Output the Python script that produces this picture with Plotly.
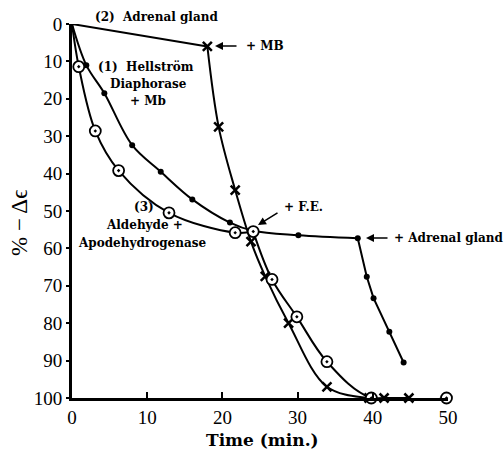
import plotly.graph_objects as go

# (1) Hellström diaphorase + Mb (dots)
hell_t = [0, 1.9, 4.3, 8.0, 11.8, 16.0, 21.0, 24.1, 30.1, 38.0]
hell_v = [0, 11.0, 18.5, 32.4, 39.5, 46.9, 53.1, 55.3, 56.5, 57.3]
# after + Adrenal gland
hell_ad_t = [38.0, 39.2, 40.1, 42.2, 44.1]
hell_ad_v = [57.3, 67.6, 73.3, 82.3, 90.5]

# (2) Adrenal gland (crosses)
adr_t = [0, 18.0]
adr_v = [0, 6.0]
# after + MB
adr_mb_t = [18.0, 19.5, 21.7, 23.8, 25.7, 28.8, 33.9, 39.5, 41.5, 44.8]
adr_mb_v = [6.0, 27.5, 44.4, 58.2, 67.5, 80.0, 97.0, 100, 100, 100]

# (3) Aldehyde + apodehydrogenase (circles)
ald_t = [0, 0.9, 3.1, 6.2, 12.9, 21.7, 24.1]
ald_v = [0, 11.4, 28.6, 39.2, 50.5, 55.8, 55.5]
# after + F.E.
ald_fe_t = [24.1, 26.6, 29.9, 33.9, 39.8, 49.8]
ald_fe_v = [55.5, 68.3, 78.3, 90.3, 100, 100]

x_ticks = [0, 10, 20, 30, 40, 50]
y_ticks = [0, 10, 20, 30, 40, 50, 60, 70, 80, 90, 100]

BLK = "black"
fig = go.Figure()

def line(x, y, shape):
    fig.add_trace(go.Scatter(x=x, y=y, mode="lines",
                             line=dict(color=BLK, width=2, shape=shape, smoothing=1.0),
                             hoverinfo="skip", showlegend=False))

def marks(x, y, symbol, size, color, lw):
    fig.add_trace(go.Scatter(x=x, y=y, mode="markers", cliponaxis=False,
                             marker=dict(symbol=symbol, size=size, color=color,
                                         line=dict(color=BLK, width=lw)),
                             hoverinfo="skip", showlegend=False))

line(adr_t, adr_v, "linear")
line(adr_mb_t, adr_mb_v, "spline")
line(hell_t, hell_v, "spline")
line(hell_ad_t, hell_ad_v, "linear")
line(ald_t, ald_v, "spline")
line(ald_fe_t, ald_fe_v, "spline")

marks(hell_t[1:7] + hell_t[8:] + hell_ad_t[1:], hell_v[1:7] + hell_v[8:] + hell_ad_v[1:],
      "circle", 6, BLK, 0)
marks(adr_mb_t, adr_mb_v, "x-thin", 9, BLK, 2.5)
marks(ald_t[1:] + ald_fe_t[1:], ald_v[1:] + ald_fe_v[1:], "circle-dot", 11, "white", 1.8)

SERIF = "Liberation Serif"
BSERIF = "DejaVu Serif"
ann_font = dict(family=BSERIF, size=12, color=BLK)

def px(xp):
    return (xp - 72) / 376.0

def py(yp):
    return (398 - yp) / 374.0

def txt(x, y, s, anchor="left", font=ann_font, angle=0):
    fig.add_annotation(x=px(x), y=py(y), xref="paper", yref="paper", text=s, showarrow=False,
                       xanchor=anchor, yanchor="middle", font=font, textangle=angle)

txt(93, 17, "<b>(2)\u00a0 Adrenal gland</b>")
txt(146, 67, "<b>(1)\u00a0 Hellström</b>", "center")
txt(148, 84, "<b>Diaphorase</b>", "center")
txt(148, 101, "<b>+ Mb</b>", "center")
txt(144, 207, "<b>(3)</b>", "center")
txt(144, 225, "<b>Aldehyde +</b>", "center")
txt(142, 243, "<b>Apodehydrogenase</b>", "center")
txt(244, 46, "<b>+ MB</b>")
txt(282, 207, "<b>+ F.E.</b>")
txt(392, 238, "<b>+ Adrenal gland</b>")

# axis titles
txt(262, 440, "<b>Time (min.)</b>", "center", dict(family=BSERIF, size=17, color=BLK))
txt(19, 223, "% − Δϵ", "center", dict(family=SERIF, size=23, color=BLK), -90)

def arrow(x0, y0, x1, y1):
    fig.add_annotation(x=px(x1), y=py(y1), xref="paper", yref="paper",
                       ax=x0 - x1, ay=y0 - y1, axref="pixel", ayref="pixel",
                       text="", showarrow=True,
                       arrowhead=2, arrowsize=1, arrowwidth=1.6, arrowcolor=BLK)

arrow(238, 46, 215, 46)
arrow(279, 212, 258, 225)
arrow(389, 238, 366, 238)

fig.update_layout(
    width=504, height=453,
    margin=dict(l=72, r=56, t=24, b=55),
    paper_bgcolor="white", plot_bgcolor="white",
    font=dict(family=SERIF, color=BLK),
    xaxis=dict(range=[0, 50], tickvals=x_ticks, ticks="inside", ticklen=6, tickwidth=2,
               tickcolor=BLK, showline=True, linewidth=3, linecolor=BLK, showgrid=False,
               zeroline=False, tickfont=dict(family=SERIF, size=19, color=BLK)),
    yaxis=dict(range=[100, 0], tickvals=y_ticks, ticks="outside", ticklen=3, tickwidth=2,
               tickcolor=BLK, showline=True, linewidth=3, linecolor=BLK, showgrid=False,
               zeroline=False, tickfont=dict(family=SERIF, size=19, color=BLK)),
)

fig.write_html("out.html")
